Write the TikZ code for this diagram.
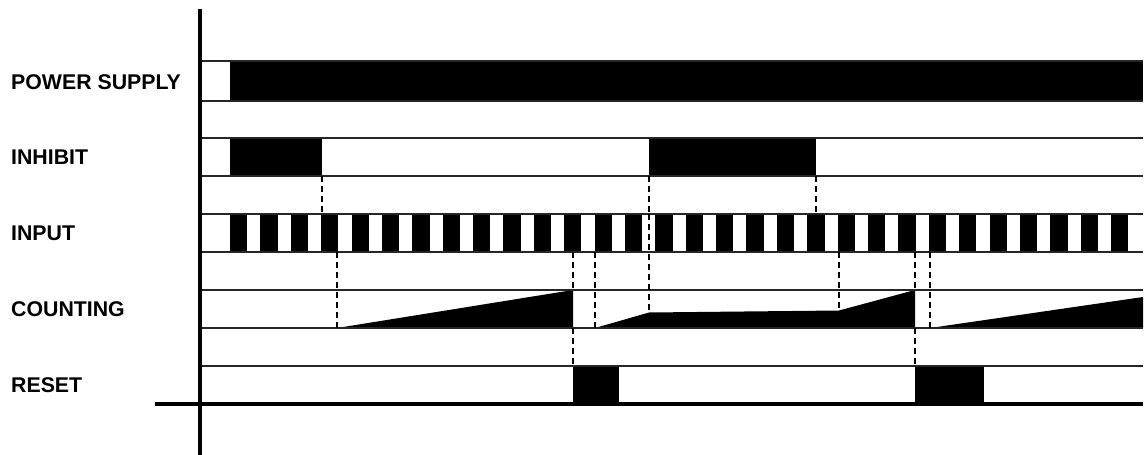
\documentclass[tikz,border=0pt]{standalone}
\usepackage{fontspec}
\setmainfont{Liberation Sans}
\begin{document}
\begin{tikzpicture}[x=1pt,y=-1pt,
  rowline/.style={line width=1.4pt, black!85},
  axisline/.style={line width=3.5pt, black},
  guide/.style={line width=2.2pt, dash pattern=on 6pt off 4pt, black},
  lbl/.style={anchor=base west, inner sep=0pt, font=\fontsize{21.3}{25}\selectfont\bfseries}]
\useasboundingbox (0,0) rectangle (1144,455);
% labels
\node[lbl] (ps)  at (11,89)  {POWER SUPPLY};
\node[lbl] (inh) at (11,164.5) {INHIBIT};
\node[lbl] (inp) at (11,240.5) {INPUT};
\node[lbl] (cnt) at (11,316) {COUNTING};
\node[lbl] (rst) at (11,392) {RESET};
% black signal regions
\fill (230,61) rectangle (1143,101);
\fill (230,138) rectangle (322,176);
\fill (649,138) rectangle (816,176);
\foreach \i in {0,...,29} {
  \fill ({230+30.38*\i},214) rectangle ({247.3+30.38*\i},252);
}
\fill (337,328) -- (573,290) -- (573,328) -- cycle;
\fill (595,328) -- (649,312.5) -- (839,310.5) -- (915,290) -- (915,328) -- cycle;
\fill (930,328) -- (1143,297) -- (1143,328) -- cycle;
\fill (573,366) rectangle (619,404);
\fill (915,366) rectangle (984,404);
% row lines
\foreach \t/\b in {61/101,138/176,214/252,290/328,366/404} {
  \draw[rowline] (200,\t) -- (1143,\t);
  \draw[rowline] (200,\b) -- (1143,\b);
}
% guide lines
\draw[guide] (322,176) -- (322,214);
\draw[guide] (649,176) -- (649,214);
\draw[guide] (816,176) -- (816,214);
\draw[guide] (337,252) -- (337,328);
\draw[guide] (573,252) -- (573,290);
\draw[guide] (573,328) -- (573,366);
\draw[guide] (595,252) -- (595,328);
\draw[guide] (649,214) -- (649,312.5);
\draw[guide] (839,252) -- (839,310.5);
\draw[guide] (915,252) -- (915,290);
\draw[guide] (915,328) -- (915,366);
\draw[guide] (930,252) -- (930,328);
% axes
\draw[axisline] (200,9) -- (200,455);
\draw[axisline] (155,404) -- (1143,404);
\end{tikzpicture}
\end{document}
